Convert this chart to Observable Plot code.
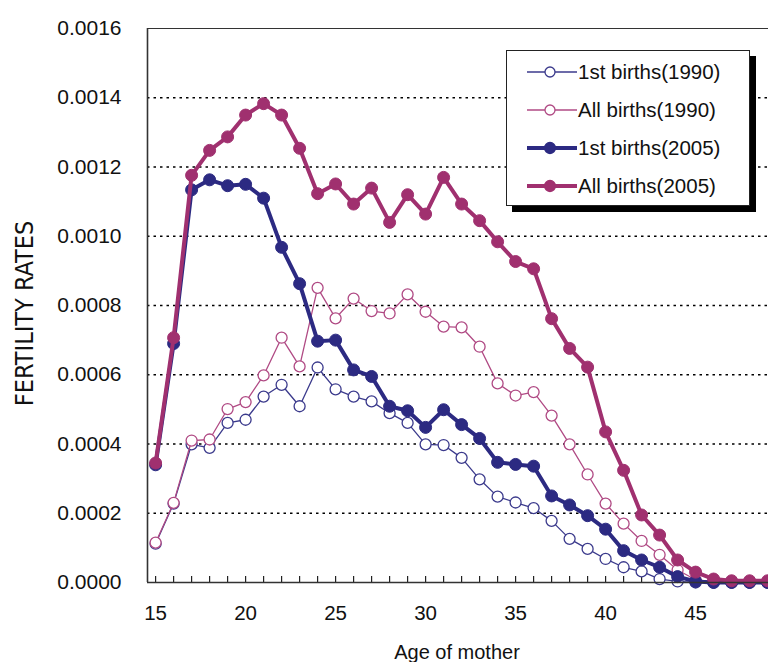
<!DOCTYPE html>
<html>
<head>
<meta charset="utf-8">
<script src="https://cdn.jsdelivr.net/npm/d3@7"></script>
<script src="https://cdn.jsdelivr.net/npm/@observablehq/plot@0.6"></script>
<style>
  html, body { margin: 0; padding: 0; background: #fff; }
  #wrap { position: relative; width: 768px; height: 662px; overflow: hidden; font-family: "Liberation Sans", Arial, sans-serif; }
  #legend { position: absolute; left: 506px; top: 50px; width: 244px; height: 156px; box-sizing: border-box;
    border: 1.5px solid #222; background: #fff; box-shadow: 6px 6px 0 #000; }
  .row { position: absolute; left: 20px; height: 24px; display: flex; align-items: center; font-size: 20.5px; color: #111; white-space: nowrap; }
  .row svg { margin-right: 1px; }
</style>
</head>
<body>
<div id="wrap"></div>
<script>
const ages = [15,16,17,18,19,20,21,22,23,24,25,26,27,28,29,30,31,32,33,34,35,36,37,38,39,40,41,42,43,44,45,46,47,48,49];
const first1990 = [0.000112,0.000228,0.000399,0.000389,0.000461,0.00047,0.000537,0.000571,0.000509,0.000621,0.000558,0.000537,0.000523,0.000489,0.000461,0.000399,0.000397,0.00036,0.000298,0.000248,0.000231,0.000215,0.000178,0.000126,0.000097,0.000068,0.000044,0.000032,0.00001,0.000003,0,0,0,0,0];
const all1990 = [0.000115,0.00023,0.00041,0.000413,0.000501,0.000521,0.000598,0.000707,0.000624,0.000851,0.000763,0.00082,0.000784,0.000777,0.000832,0.000782,0.000739,0.000737,0.000681,0.000575,0.00054,0.00055,0.000482,0.000399,0.000312,0.000228,0.00017,0.00012,0.00008,0.000036,0.000008,0.000002,0,0,0];
const first2005 = [0.00034,0.00069,0.001134,0.001163,0.001146,0.00115,0.00111,0.000968,0.000863,0.000697,0.0007,0.000614,0.000595,0.000509,0.000496,0.000448,0.000499,0.000456,0.000416,0.000347,0.000341,0.000336,0.00025,0.000224,0.000193,0.000154,0.000092,0.000065,0.000044,0.000017,0.000003,0,0,0,0];
const all2005 = [0.000345,0.000707,0.001176,0.001248,0.001287,0.00135,0.001383,0.00135,0.001254,0.001123,0.001151,0.001093,0.001139,0.00104,0.00112,0.001064,0.00117,0.001093,0.001045,0.000984,0.000927,0.000906,0.000762,0.000676,0.000622,0.000435,0.000324,0.000195,0.000137,0.000065,0.00003,0.00001,0.000005,0.000005,0.000005];

const seriesNames = ["1st births(1990)", "All births(1990)", "1st births(2005)", "All births(2005)"];
const seriesValues = [first1990, all1990, first2005, all2005];
const seriesColors = ["#3b3a8c", "#b04a84", "#2c2a82", "#a0306f"];
const seriesFilled = [false, false, true, true];

const yTicks = [0, 0.0002, 0.0004, 0.0006, 0.0008, 0.001, 0.0012, 0.0014, 0.0016];
const gridTicks = [0.0002, 0.0004, 0.0006, 0.0008, 0.001, 0.0012, 0.0014];
const xLabelTicks = [15, 20, 25, 30, 35, 40, 45];
const xDomain = [14.55, 49.05];
const yDomain = [0, 0.0016];

const marks = [
  Plot.gridY(gridTicks, {stroke: "#000", strokeOpacity: 1, strokeWidth: 1.6, strokeDasharray: "2.5,4"}),
  Plot.axisY(yTicks, {tickSize: 0, tickPadding: 26, fontSize: 21, tickFormat: d => d.toFixed(4), label: null, fill: "#111"}),
  Plot.axisX(xLabelTicks, {tickSize: 0, tickPadding: 23, fontSize: 20.5, label: null, fill: "#111"}),
  Plot.axisX(ages, {tickSize: -6, tickFormat: () => "", label: null, stroke: "#222", strokeWidth: 1.2}),
  Plot.text(["FERTILITY RATES"], {frameAnchor: "left", textAnchor: "middle", rotate: -90, dx: -123, dy: 8, fontSize: 25,
    fontFamily: "'Liberation Sans Narrow', 'DejaVu Sans Condensed', 'Liberation Sans', sans-serif", fill: "#111"}),
  Plot.text(["Age of mother"], {frameAnchor: "bottom", dy: 76, dx: -1, fontSize: 20, fill: "#111"})
];

seriesValues.forEach((vals, i) => {
  const data = ages.map((a, j) => ({age: a, value: vals[j]}));
  const thick = seriesFilled[i];
  marks.push(Plot.line(data, {x: "age", y: "value", stroke: seriesColors[i], strokeWidth: thick ? 4 : 1.3}));
  marks.push(Plot.dot(data, {x: "age", y: "value", r: thick ? 6 : 5.5,
    fill: thick ? seriesColors[i] : "#fff", stroke: seriesColors[i], strokeWidth: thick ? 1 : 1.3}));
});

marks.push(Plot.ruleY([yDomain[0]], {stroke: "#333", strokeWidth: 1.6}));
marks.push(Plot.ruleY([yDomain[1]], {stroke: "#333", strokeWidth: 1.2}));
marks.push(Plot.ruleX([xDomain[0]], {stroke: "#333", strokeWidth: 1.6}));

const chart = Plot.plot({
  width: 768,
  height: 662,
  marginLeft: 147,
  marginRight: 0,
  marginTop: 28,
  marginBottom: 80,
  style: {fontFamily: "'Liberation Sans', Arial, sans-serif", background: "#fff"},
  x: {domain: xDomain, axis: null},
  y: {domain: yDomain, axis: null},
  marks
});

const wrap = document.getElementById("wrap");
wrap.appendChild(chart);

const legend = document.createElement("div");
legend.id = "legend";
const rowTops = [9, 47, 85, 123];
seriesNames.forEach((name, i) => {
  const row = document.createElement("div");
  row.className = "row";
  row.style.top = rowTops[i] + "px";
  const thick = seriesFilled[i];
  const c = seriesColors[i];
  row.innerHTML = `<svg width="50" height="24"><line x1="0" x2="50" y1="12" y2="12" stroke="${c}" stroke-width="${thick ? 4 : 1.3}"/>` +
    `<circle cx="23" cy="12" r="${thick ? 5.5 : 5}" fill="${thick ? c : "#fff"}" stroke="${c}" stroke-width="1.3"/></svg><span>${name}</span>`;
  legend.appendChild(row);
});
wrap.appendChild(legend);
</script>
</body>
</html>
